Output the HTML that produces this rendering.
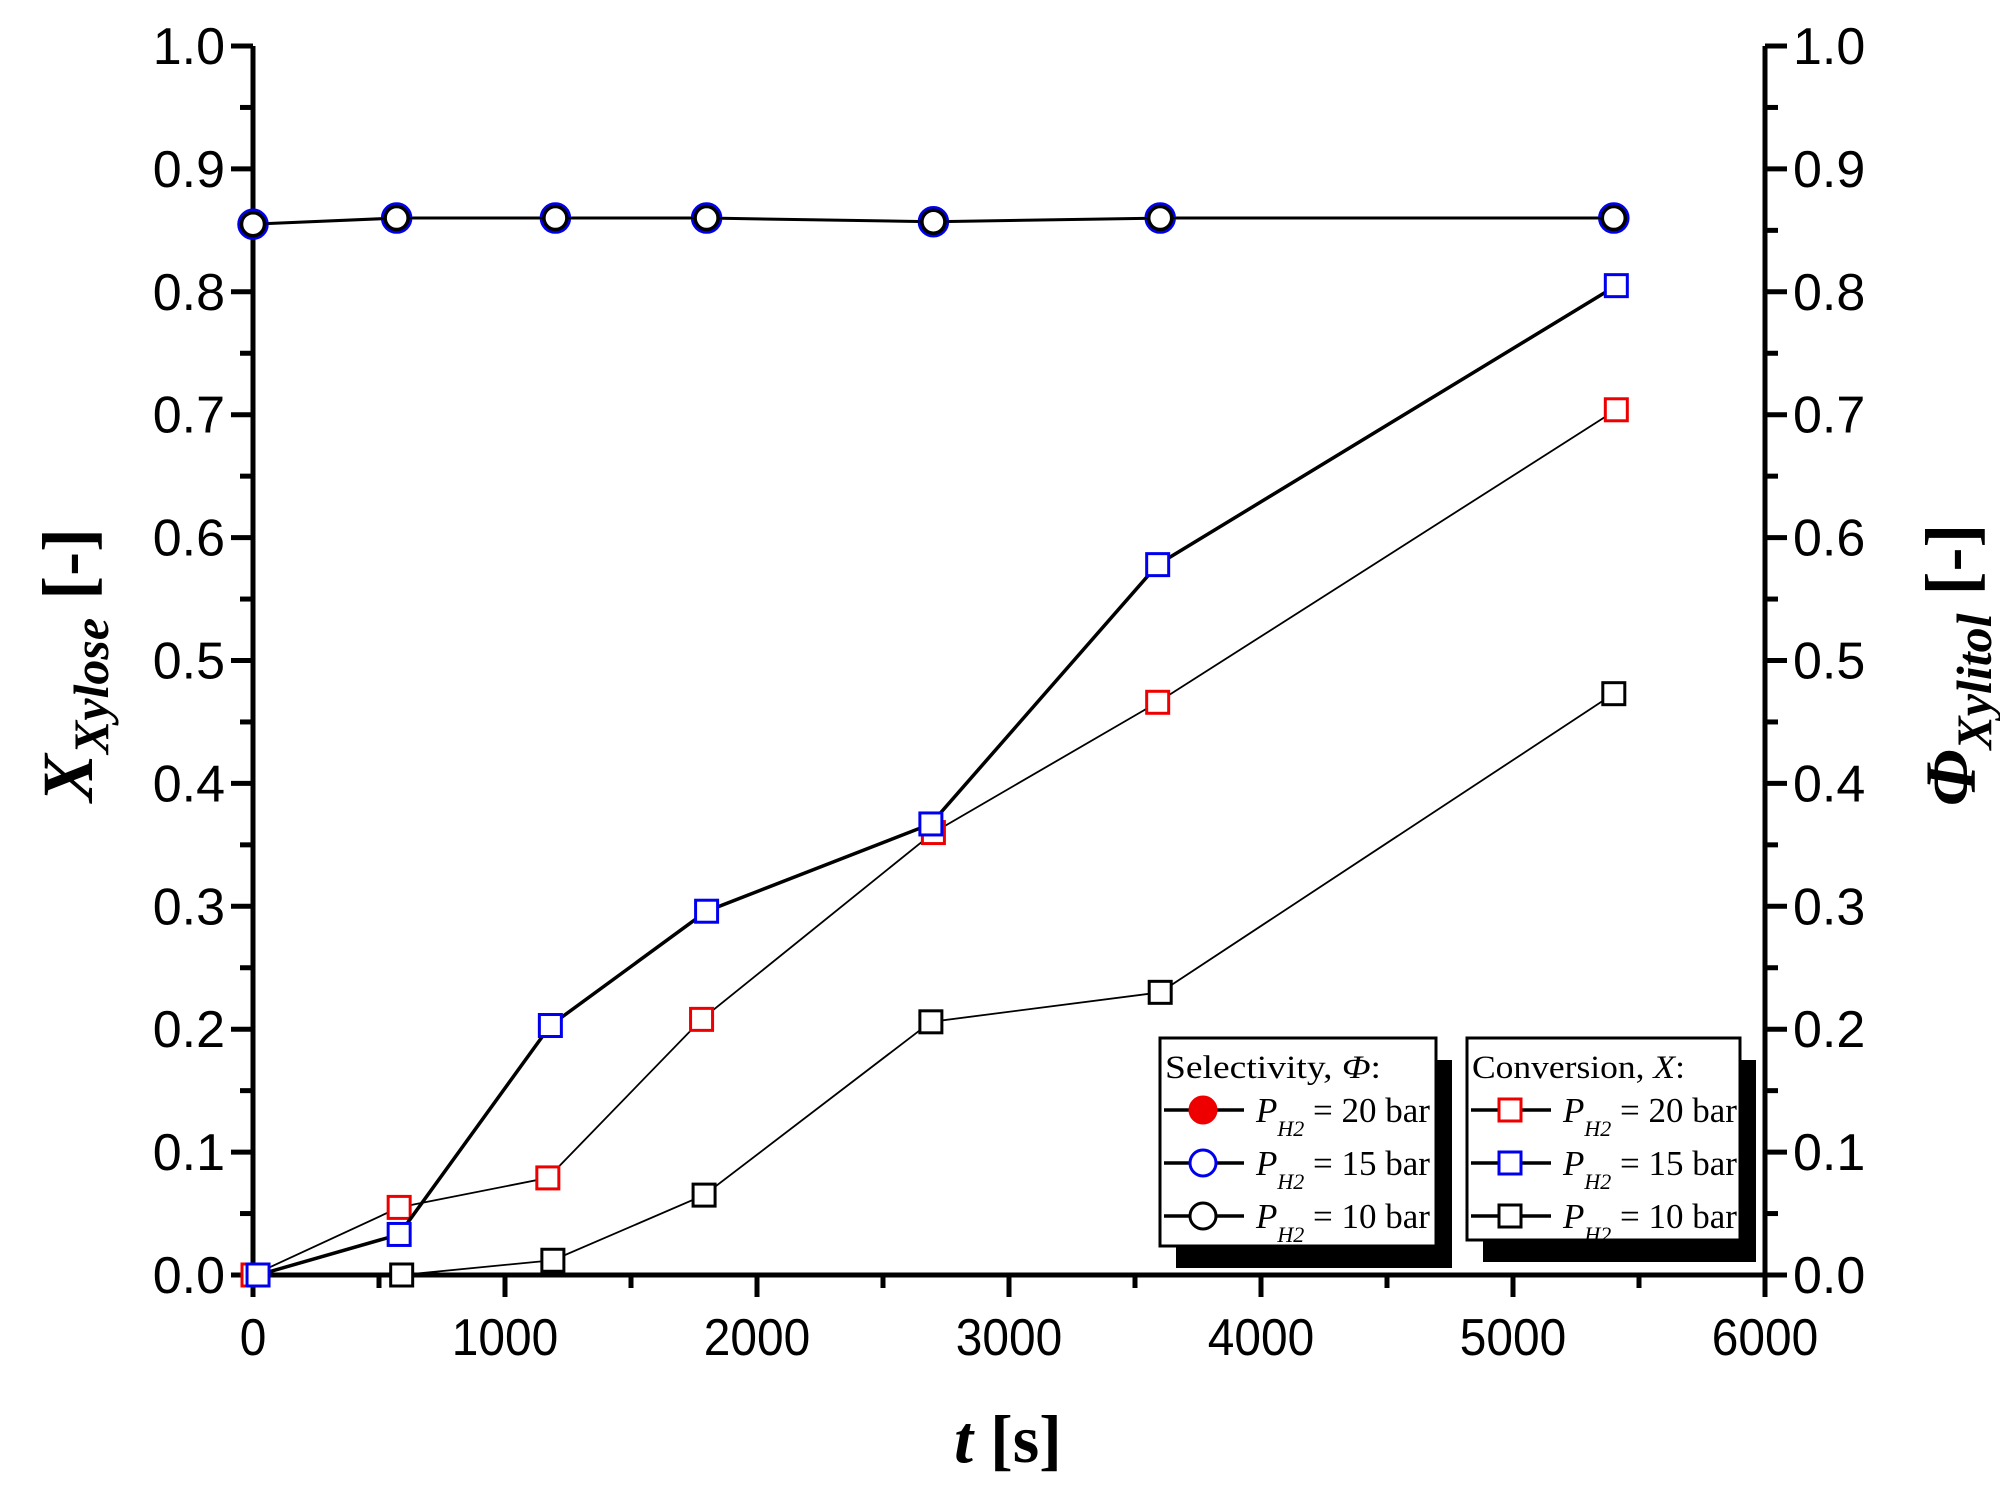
<!DOCTYPE html>
<html><head><meta charset="utf-8"><style>
html,body{margin:0;padding:0;background:#fff;}
svg text{font-family:"Liberation Sans",sans-serif;}
</style></head><body>
<svg id="chart" width="2000" height="1501" viewBox="0 0 2000 1501" xmlns="http://www.w3.org/2000/svg">
<g id="axes"></g>
<g id="series"></g>
<g transform="translate(92,665) rotate(-90)">
<text x="0" y="0" text-anchor="middle" font-size="72" font-weight="bold" font-style="italic" style="font-family:'Liberation Serif',serif">X<tspan font-size="50" dy="16">Xylose</tspan><tspan font-style="normal" dy="-16"> [-]</tspan></text></g>
<g transform="translate(1975,665) rotate(-90)">
<text x="0" y="0" text-anchor="middle" font-size="72" font-weight="bold" font-style="italic" style="font-family:'Liberation Serif',serif">Φ<tspan font-size="50" dy="16">Xylitol</tspan><tspan font-style="normal" dy="-16"> [-]</tspan></text></g>
<text x="1008" y="1462" text-anchor="middle" font-size="68" font-weight="bold" style="font-family:'Liberation Serif',serif"><tspan font-style="italic">t</tspan> [s]</text>
<g id="legend"></g>
</svg>
<script>
const timesSel = [0, 570, 1200, 1800, 2700, 3600, 5400];
const selectivity10 = [0.855, 0.86, 0.86, 0.86, 0.857, 0.86, 0.86];
const times20 = [0, 580, 1170, 1780, 2700, 3590, 5410];
const conversion20 = [0, 0.055, 0.079, 0.208, 0.36, 0.466, 0.704];
const times15 = [20, 580, 1180, 1800, 2690, 3590, 5410];
const conversion15 = [0, 0.033, 0.203, 0.296, 0.367, 0.578, 0.805];
const times10 = [0, 590, 1190, 1790, 2690, 3600, 5400];
const conversion10 = [0, 0.0, 0.012, 0.065, 0.206, 0.23, 0.473];
const xTicks = [0, 1000, 2000, 3000, 4000, 5000, 6000];
const yTicks = [0, 0.1, 0.2, 0.3, 0.4, 0.5, 0.6, 0.7, 0.8, 0.9, 1.0];

const X0=253, X1=1765, Y0=1275, Y1=46;
const xs = v => X0 + v/6000*(X1-X0);
const ys = v => Y0 - v*(Y0-Y1);
const NS="http://www.w3.org/2000/svg";
function mk(tag, attrs, parent){const e=document.createElementNS(NS,tag);for(const k in attrs)e.setAttribute(k,attrs[k]);parent.appendChild(e);return e;}
const axes=document.getElementById('axes');
let e;
e=mk('line',{x1:X0,y1:Y0,x2:X1,y2:Y0,stroke:'#000','stroke-width':5},axes);


e=mk('line',{x1:X0,y1:Y0,x2:X0,y2:Y1,stroke:'#000','stroke-width':5},axes);


e=mk('line',{x1:X1,y1:Y0,x2:X1,y2:Y1,stroke:'#000','stroke-width':5},axes);


for(let i=0;i<xTicks.length;i++){
  const x=xs(xTicks[i]);
  e=mk('line',{x1:x,y1:Y0,x2:x,y2:Y0+22,stroke:'#000','stroke-width':5},axes);
  
  
  if(i<xTicks.length-1){
    const xm=xs(xTicks[i]+500);
    e=mk('line',{x1:xm,y1:Y0,x2:xm,y2:Y0+13,stroke:'#000','stroke-width':5},axes);
    
    
  }
  e=mk('text',{x:x,y:Y0+80,'text-anchor':'middle','font-size':52,transform:'translate('+x+',0) scale(0.92,1) translate('+(-x)+',0)'},axes);
  e.textContent=xTicks[i];
  
  
}
for(let i=0;i<yTicks.length;i++){
  const y=ys(yTicks[i]);
  const lab=yTicks[i].toFixed(1);
  e=mk('line',{x1:X0-22,y1:y,x2:X0,y2:y,stroke:'#000','stroke-width':5},axes);
  
  
  e=mk('line',{x1:X1,y1:y,x2:X1+22,y2:y,stroke:'#000','stroke-width':5},axes);
  
  
  if(i<yTicks.length-1){
    const ym=ys(yTicks[i]+0.05);
    e=mk('line',{x1:X0-13,y1:ym,x2:X0,y2:ym,stroke:'#000','stroke-width':5},axes);
    
    
    e=mk('line',{x1:X1,y1:ym,x2:X1+13,y2:ym,stroke:'#000','stroke-width':5},axes);
    
    
  }
  e=mk('text',{x:X0-28,y:y+18,'text-anchor':'end','font-size':52},axes);
  e.textContent=lab;
  
  
  e=mk('text',{x:X1+28,y:y+18,'text-anchor':'start','font-size':52},axes);
  e.textContent=lab;
  
  
}
const ser=document.getElementById('series');
function drawSeries(name,tx,vals,color,lw,shape,r){
  const g=mk('g',{},ser);
  
  
  const pts=tx.map((t,i)=>xs(t)+','+ys(vals[i])).join(' ');
  e=mk('polyline',{points:pts,fill:'none',stroke:'#000','stroke-width':lw},g);
  
  
  for(let i=0;i<tx.length;i++){
    const x=xs(tx[i]),y=ys(vals[i]);
    if(shape==='circle') e=mk('circle',{cx:x,cy:y,r:r,fill:'#fff',stroke:color,'stroke-width':3.5},g);
    else e=mk('rect',{x:x-11,y:y-11,width:22,height:22,fill:'#fff',stroke:color,'stroke-width':3},g);
    
    
  }
}
drawSeries('conversion-10bar',times10,conversion10,'#000',1.8,'square');
drawSeries('conversion-20bar',times20,conversion20,'#e00',1.8,'square');
drawSeries('conversion-15bar',times15,conversion15,'#00e',3.5,'square');
drawSeries('selectivity-15bar',timesSel,selectivity10,'#00e',3,'circle',14);
drawSeries('selectivity-10bar',timesSel,selectivity10,'#000',2,'circle',11.5);

const leg=document.getElementById('legend');
function legendBox(name,x,y,w,h,title,items,shape){
  const g=mk('g',{},leg);
  
  
  e=mk('rect',{x:x+16,y:y+22,width:w,height:h,fill:'#000'},g);
  
  
  e=mk('rect',{x:x,y:y,width:w,height:h,fill:'#fff',stroke:'#000','stroke-width':3},g);
  
  
  e=mk('text',{x:x+5,y:y+40,'font-size':33,textLength:w-60,lengthAdjust:'spacingAndGlyphs',style:"font-family:'Liberation Serif',serif"},g);
  e.innerHTML=title;
  
  
  items.forEach((it,i)=>{
    const cy=y+72+i*53;
    const cx=x+43;
    e=mk('line',{x1:x+4,y1:cy,x2:x+84,y2:cy,stroke:'#000','stroke-width':3.5},g);
    
    
    if(shape==='circle') e=mk('circle',{cx:cx,cy:cy,r:13,fill:it.fill,stroke:it.color,'stroke-width':3},g);
    else e=mk('rect',{x:cx-11,y:cy-11,width:22,height:22,fill:'#fff',stroke:it.color,'stroke-width':3},g);
    
    
    e=mk('text',{x:x+96,y:cy+12,'font-size':35,style:"font-family:'Liberation Serif',serif"},g);
    e.innerHTML='<tspan font-style="italic">P</tspan><tspan font-style="italic" font-size="22" dy="14">H2</tspan><tspan dy="-14"> = '+it.label+'</tspan>';
    
    
  });
}
legendBox('legend-selectivity',1160,1038,276,208,'Selectivity, <tspan font-style="italic">Φ</tspan>:',
 [{color:'#e00',fill:'#e00',label:'20 bar'},{color:'#00e',fill:'#fff',label:'15 bar'},{color:'#000',fill:'#fff',label:'10 bar'}],'circle');
legendBox('legend-conversion',1467,1038,273,202,'Conversion, <tspan font-style="italic">X</tspan>:',
 [{color:'#e00',label:'20 bar'},{color:'#00e',label:'15 bar'},{color:'#000',label:'10 bar'}],'square');
</script>
</body></html>
